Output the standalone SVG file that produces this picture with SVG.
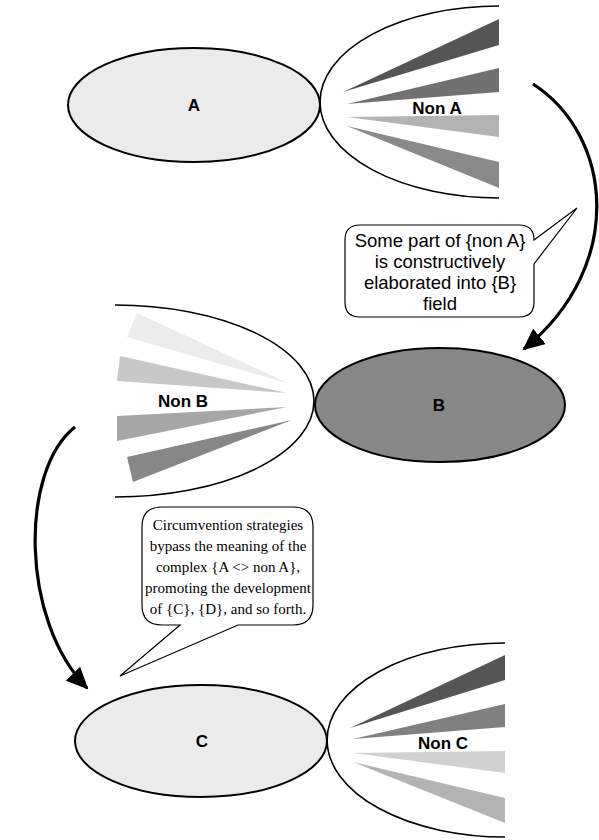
<svg xmlns="http://www.w3.org/2000/svg" width="599" height="840" viewBox="0 0 599 840">
<style>
.ell{stroke:#000;stroke-width:2}
.half{fill:#fff;stroke:#000;stroke-width:1.6}
.lbl{font-family:"Liberation Sans",Arial,sans-serif;font-weight:bold;font-size:17px;text-anchor:middle;dominant-baseline:central;fill:#000}
.call{fill:#fff;stroke:#000;stroke-width:1.2}
.t1{font-family:"Liberation Sans",Arial,sans-serif;font-size:18.5px;text-anchor:middle;fill:#000}
.t2{font-family:"Liberation Serif","Times New Roman",serif;font-size:15px;text-anchor:middle;fill:#000}
.conn{fill:none;stroke:#000;stroke-width:3.2}
</style>
<defs>
<marker id="ah" markerUnits="userSpaceOnUse" markerWidth="22" markerHeight="20" viewBox="0 0 22 20" refX="20" refY="10" orient="auto">
<path d="M0,0 L22,10 L0,20 z" fill="#000"/>
</marker>
</defs>

<g id="nonA">
<path class="half" d="M499,6 A179,96 0 0,0 499,198"/>
<polygon points="343,92 499,19 499,45" fill="#555"/>
<polygon points="347,104 499,68 499,92" fill="#717171"/>
<polygon points="347,117 499,115 499,137" fill="#b3b3b3"/>
<polygon points="347,126 499,162 499,188" fill="#8a8a8a"/>
<text class="lbl" x="437" y="108">Non A</text>
</g>
<g id="A">
<ellipse class="ell" cx="194" cy="105" rx="126" ry="57" fill="#ebebeb"/>
<text class="lbl" x="194" y="105">A</text>
</g>

<g id="nonB">
<path class="half" d="M115,305 A199,96 0 0,1 115,497"/>
<polygon points="137,313 127,337 290,384" fill="#ebebeb"/>
<polygon points="120,356 117,381 287,393" fill="#c8c8c8"/>
<polygon points="117,416 117,441 287,407" fill="#a6a6a6"/>
<polygon points="127,457 133,482 292,420" fill="#878787"/>
<text class="lbl" x="183" y="401">Non B</text>
</g>
<g id="B">
<ellipse class="ell" cx="440" cy="405" rx="125" ry="57" fill="#878787"/>
<text class="lbl" x="439" y="405">B</text>
</g>

<g id="nonC">
<path class="half" d="M505,643 A178,97 0 0,0 505,837"/>
<polygon points="350,728 505,655 505,680" fill="#555"/>
<polygon points="353,739 505,704 505,727" fill="#808080"/>
<polygon points="353,753 505,751 505,773" fill="#d0d0d0"/>
<polygon points="353,762 505,798 505,823" fill="#b3b3b3"/>
<text class="lbl" x="443" y="743">Non C</text>
</g>
<g id="C">
<ellipse class="ell" cx="201" cy="741" rx="126" ry="56" fill="#ebebeb"/>
<text class="lbl" x="202" y="741">C</text>
</g>

<g id="connectors">
<path class="conn" d="M533,84 C612,135 627,265 524,349" marker-end="url(#ah)"/>
<path class="conn" d="M75,427 C20,470 20,620 87,688" marker-end="url(#ah)"/>
</g>

<g id="callout1">
<path class="call" d="M360,225 H519 Q534,225 534,240 L577,208 L534,264 V302 Q534,317 519,317 H360 Q345,317 345,302 V240 Q345,225 360,225 Z"/>
<text class="t1" x="440" y="247">Some part of {non A}</text>
<text class="t1" x="440" y="268">is constructively</text>
<text class="t1" x="440" y="289">elaborated into {B}</text>
<text class="t1" x="440" y="310">field</text>
</g>

<g id="callout2">
<path class="call" d="M162,507 H293 Q313,507 313,527 V605 Q313,625 293,625 H238 L120,676 L180,625 H162 Q142,625 142,605 V527 Q142,507 162,507 Z"/>
<text class="t2" x="228" y="530">Circumvention strategies</text>
<text class="t2" x="228" y="551">bypass the meaning of the</text>
<text class="t2" x="228" y="572">complex {A &lt;&gt; non A},</text>
<text class="t2" x="228" y="593">promoting the development</text>
<text class="t2" x="228" y="614">of {C}, {D}, and so forth.</text>
</g>
</svg>
